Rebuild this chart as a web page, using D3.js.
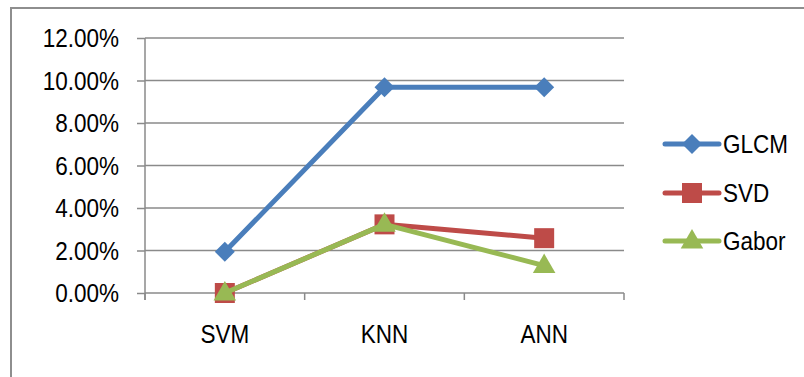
<!DOCTYPE html>
<html>
<head>
<meta charset="utf-8">
<script src="https://cdn.jsdelivr.net/npm/d3@7"></script>
<style>
  html, body { margin: 0; padding: 0; background: #fff; }
  svg { display: block; }
  text { font-family: "Liberation Sans", Arial, sans-serif; fill: #000; }
</style>
</head>
<body>
<svg id="chart" width="804" height="377"></svg>
<script>
// Error rates per classifier, for each feature extraction method
const categories = ["SVM", "KNN", "ANN"];
const seriesNames = ["GLCM", "SVD", "Gabor"];
const glcm  = [0.0194, 0.0968, 0.0968];
const svd   = [0.0000, 0.0323, 0.0258];
const gabor = [0.0000, 0.0323, 0.0129];
const yTicks = [0, 0.02, 0.04, 0.06, 0.08, 0.10, 0.12];
const colors = ["#4a7ebb", "#be4b48", "#98b954"];
const shapes = ["diamond", "square", "triangle"];

const series = seriesNames.map((name, i) => ({
  name, values: [glcm, svd, gabor][i], color: colors[i], shape: shapes[i]
}));

const svg = d3.select("#chart");
const grid = "#8a8a8a";
const sx = 0.9; // horizontal squeeze for the label face

// Outer chart frame
svg.append("rect")
  .attr("x", 11).attr("y", 8).attr("width", 900).attr("height", 500)
  .attr("fill", "none").attr("stroke", "#8e8e8e").attr("stroke-width", 2);

const plot = { left: 145, right: 624, top: 38, bottom: 293 };

const x = d3.scaleBand().domain(categories).range([plot.left, plot.right]);
const y = d3.scaleLinear().domain([0, 0.12]).range([plot.bottom, plot.top]);

// Horizontal gridlines
svg.append("g").selectAll("line")
  .data(yTicks.filter(d => d > 0))
  .join("line")
  .attr("x1", plot.left).attr("x2", plot.right)
  .attr("y1", d => y(d)).attr("y2", d => y(d))
  .attr("stroke", grid).attr("stroke-width", 1.5);

// Y axis
const yAxis = svg.append("g")
  .attr("transform", `translate(${plot.left},0)`)
  .call(d3.axisLeft(y).tickValues(yTicks).tickSize(8).tickPadding(0)
    .tickFormat(d => d3.format(".2%")(d)));
yAxis.select(".domain").remove();
yAxis.append("line")
  .attr("x1", 0).attr("x2", 0).attr("y1", plot.top).attr("y2", plot.bottom + 7)
  .attr("stroke", grid).attr("stroke-width", 1.5);
yAxis.selectAll(".tick line").attr("stroke", grid).attr("stroke-width", 1.5);
yAxis.selectAll(".tick text")
  .attr("x", null).attr("dy", null)
  .attr("transform", `translate(-26,0) scale(${sx},1)`)
  .attr("dominant-baseline", "central")
  .attr("font-size", 25)
  .style("font-family", "'Liberation Sans', Arial, sans-serif")
  .attr("fill", "#000");

// X axis
const xAxis = svg.append("g")
  .attr("transform", `translate(0,${plot.bottom})`);
xAxis.append("line")
  .attr("x1", plot.left).attr("x2", plot.right).attr("y1", 0).attr("y2", 0)
  .attr("stroke", grid).attr("stroke-width", 1.5);
const bounds = categories.map(c => x(c)).concat([x(categories[categories.length - 1]) + x.bandwidth()]);
xAxis.selectAll("line.tk").data(bounds).join("line")
  .attr("class", "tk")
  .attr("x1", d => d).attr("x2", d => d).attr("y1", 0).attr("y2", 7)
  .attr("stroke", grid).attr("stroke-width", 1.5);
xAxis.selectAll("text").data(categories).join("text")
  .attr("transform", d => `translate(${x(d) + x.bandwidth() / 2},50) scale(${sx},1)`)
  .attr("text-anchor", "middle")
  .attr("font-size", 25)
  .text(d => d);

const cx = d => x(d) + x.bandwidth() / 2;

// Marker shapes
const symbolFor = {
  diamond: d3.symbol().type(d3.symbolSquare).size(200),
  square: d3.symbol().type(d3.symbolSquare).size(400),
  triangle: d3.symbol().type(d3.symbolTriangle).size(220)
};
function drawMarker(g, shape, color, px, py) {
  const p = g.append("path")
    .attr("d", symbolFor[shape]())
    .attr("fill", color);
  if (shape === "diamond") p.attr("transform", `translate(${px},${py}) rotate(45)`);
  else if (shape === "triangle") p.attr("transform", `translate(${px},${py + 1})`);
  else p.attr("transform", `translate(${px},${py})`);
}

// Series lines and markers
const line = d3.line().x((d, i) => cx(categories[i])).y(d => y(d));
series.forEach(s => {
  const g = svg.append("g");
  g.append("path")
    .attr("d", line(s.values))
    .attr("fill", "none")
    .attr("stroke", s.color)
    .attr("stroke-width", 5)
    .attr("stroke-linejoin", "round");
  s.values.forEach((v, i) => drawMarker(g, s.shape, s.color, cx(categories[i]), y(v)));
});

// Legend
const legendY = [144, 193, 241];
series.forEach((s, i) => {
  const g = svg.append("g").attr("transform", `translate(0,${legendY[i]})`);
  g.append("line")
    .attr("x1", 665).attr("x2", 719).attr("y1", 0).attr("y2", 0)
    .attr("stroke", s.color).attr("stroke-width", 5).attr("stroke-linecap", "round");
  drawMarker(g, s.shape, s.color, 692, 0);
  g.append("text")
    .attr("transform", `translate(723,0) scale(${sx},1)`)
    .attr("dominant-baseline", "central")
    .attr("font-size", 25)
    .text(s.name);
});
</script>
</body>
</html>
